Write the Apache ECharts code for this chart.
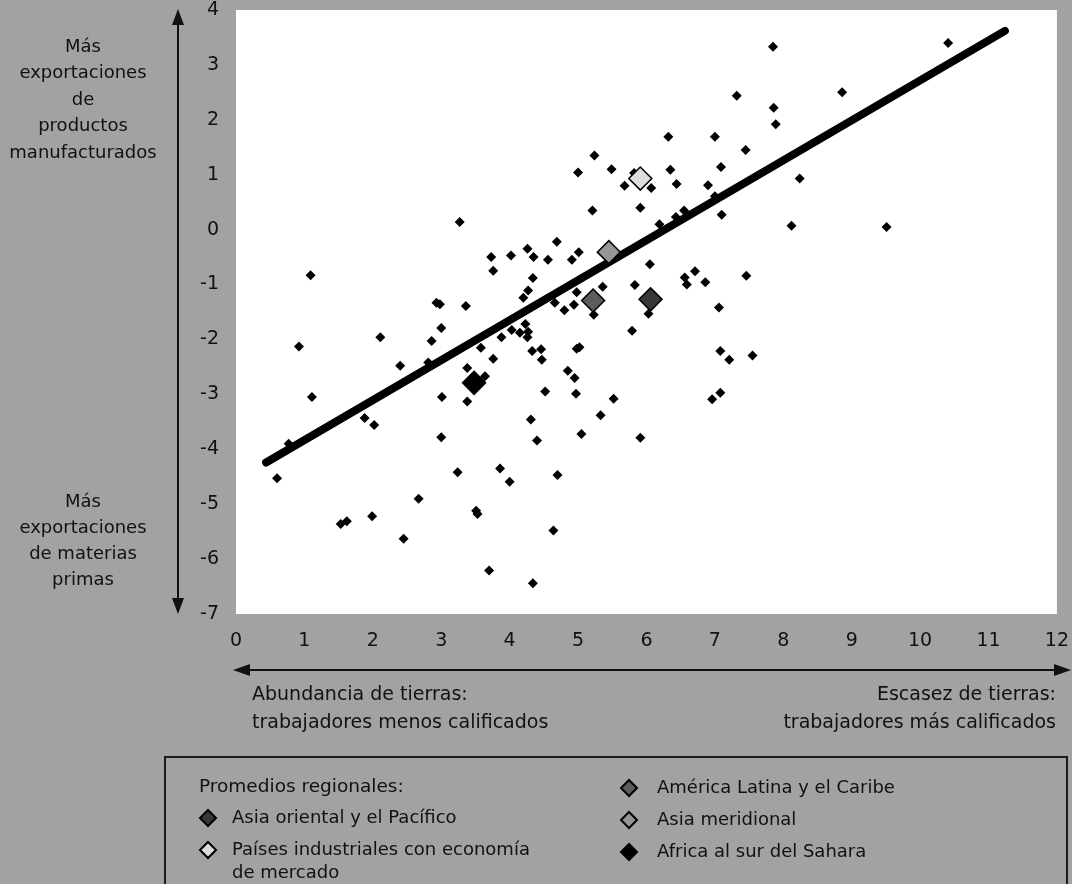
<!DOCTYPE html>
<html>
<head>
<meta charset="utf-8">
<script src="https://cdn.jsdelivr.net/npm/echarts@6/dist/echarts.min.js"></script>
<style>
html, body { margin: 0; padding: 0; background: #a2a2a2; }
#chart { width: 1072px; height: 884px; }
</style>
</head>
<body>
<div id="chart"></div>
<script>
// ---- data ----
const xTicks = [0, 1, 2, 3, 4, 5, 6, 7, 8, 9, 10, 11, 12];
const yTicks = [-7, -6, -5, -4, -3, -2, -1, 0, 1, 2, 3, 4];

const countryX = [
  5.24, 5.00, 5.49, 5.68, 5.82, 5.21, 5.91, 3.27, 4.69, 5.01,
  4.91, 5.83, 1.09, 3.73, 3.76, 4.02, 4.26, 4.35, 4.56, 4.34,
  4.27, 4.20, 4.98, 5.36, 4.66, 4.94, 2.93, 2.98, 3.36, 7.85,
  10.41, 7.32, 7.86, 7.89, 8.86, 6.32, 7.00, 7.45, 6.35, 7.09,
  6.44, 6.90, 6.07, 8.24, 6.19, 6.43, 6.55, 7.00, 7.10, 8.12,
  9.51, 6.05, 6.56, 6.59, 6.71, 6.86, 7.46, 7.06, 3.00, 2.11,
  2.86, 0.92, 2.40, 2.81, 1.11, 1.88, 2.02, 3.01, 3.00, 3.38,
  3.64, 3.38, 3.58, 3.76, 3.88, 4.03, 4.15, 4.23, 4.26, 4.27,
  4.33, 4.46, 4.47, 4.85, 4.95, 4.97, 4.52, 4.98, 5.02, 5.23,
  5.79, 5.52, 5.33, 5.05, 5.91, 4.31, 4.40, 0.60, 3.24, 3.86,
  4.00, 4.70, 2.67, 1.53, 1.62, 1.99, 2.45, 3.51, 3.53, 4.64,
  3.70, 4.34, 6.03, 7.08, 7.21, 7.55, 7.08, 6.96, 4.80, 0.77
];
const countryY = [
  1.35, 1.04, 1.10, 0.80, 1.03, 0.35, 0.40, 0.14, -0.22, -0.41,
  -0.55, -1.01, -0.83, -0.50, -0.75, -0.47, -0.35, -0.50, -0.55, -0.88,
  -1.11, -1.24, -1.14, -1.04, -1.33, -1.37, -1.33, -1.36, -1.39, 3.33,
  3.40, 2.44, 2.22, 1.92, 2.50, 1.69, 1.69, 1.45, 1.09, 1.14,
  0.83, 0.81, 0.76, 0.93, 0.10, 0.23, 0.35, 0.61, 0.27, 0.07,
  0.05, -0.63, -0.87, -1.00, -0.76, -0.96, -0.84, -1.42, -1.79, -1.96,
  -2.03, -2.13, -2.48, -2.42, -3.05, -3.43, -3.56, -3.05, -3.78, -2.52,
  -2.67, -3.13, -2.15, -2.35, -1.96, -1.83, -1.88, -1.72, -1.96, -1.86,
  -2.21, -2.18, -2.37, -2.57, -2.70, -2.99, -2.95, -2.17, -2.14, -1.55,
  -1.84, -3.08, -3.38, -3.72, -3.79, -3.46, -3.84, -4.53, -4.42, -4.35,
  -4.59, -4.47, -4.90, -5.36, -5.31, -5.22, -5.63, -5.12, -5.18, -5.48,
  -6.21, -6.44, -1.53, -2.21, -2.37, -2.29, -2.97, -3.09, -1.47, -3.90
];

const regionNames = [
  'Asia oriental y el Pacífico',
  'Países industriales con economía\nde mercado',
  'América Latina y el Caribe',
  'Asia meridional',
  'Africa al sur del Sahara'
];
const regionX = [6.06, 5.91, 5.22, 5.45, 3.48];
const regionY = [-1.27, 0.93, -1.29, -0.41, -2.79];

const trendX = [0.44, 11.24];
const trendY = [-4.24, 3.62];

// ---- styles (kept apart from data) ----
const regionFills = ['#383838', '#dcdcdc', '#5c5c5c', '#969696', '#000000'];
const FONT = "'DejaVu Sans', Verdana, sans-serif";
const INK = '#111';

const chart = echarts.init(document.getElementById('chart'), null, { renderer: 'canvas' });

const countryData = countryX.map((x, i) => [x, countryY[i]]);
const trendData = trendX.map((x, i) => [x, trendY[i]]);

const regionSeries = regionNames.map((name, i) => ({
  name: name,
  type: 'scatter',
  symbol: 'diamond',
  symbolSize: 23,
  z: 5,
  data: [[regionX[i], regionY[i]]],
  itemStyle: { color: regionFills[i], borderColor: '#000', borderWidth: 1.5, opacity: 1 }
}));

function legendBlock(names, left, top, textPad, formatter) {
  const block = {
    data: names,
    orient: 'vertical', left: left, top: top, itemGap: 9, height: 150,
    padding: 0,
    itemWidth: 16, itemHeight: 16, icon: 'diamond',
    selectedMode: false,
    textStyle: { fontSize: 18, fontFamily: FONT, color: INK, lineHeight: 23, padding: [0, 0, 0, textPad] }
  };
  if (formatter) block.formatter = formatter;
  return block;
}

const option = {
  backgroundColor: '#a2a2a2',
  animation: false,
  grid: {
    left: 236, top: 10, width: 826, height: 604,
    show: true, backgroundColor: '#ffffff', borderWidth: 0,
    containLabel: false
  },
  xAxis: {
    type: 'value', min: xTicks[0], max: xTicks[xTicks.length - 1], interval: 1,
    axisLine: { show: false }, axisTick: { show: false }, splitLine: { show: false },
    axisLabel: { show: true, margin: 18, fontSize: 19, fontFamily: FONT, color: INK,
      showMinLabel: true, showMaxLabel: true }
  },
  yAxis: {
    type: 'value', min: yTicks[0], max: yTicks[yTicks.length - 1], interval: 1,
    axisLine: { show: false }, axisTick: { show: false }, splitLine: { show: false },
    axisLabel: { show: true, margin: 17, fontSize: 19, fontFamily: FONT, color: INK,
      showMinLabel: true, showMaxLabel: true }
  },
  legend: [
    legendBlock([regionNames[0]], 199, 806.5, 11),
    // leading empty line keeps the icon level with the first text line
    legendBlock([regionNames[1]], 199, 815.5, 11, function (n) { return '\n' + n; }),
    legendBlock([regionNames[2], regionNames[3], regionNames[4]], 620, 776.5, 15)
  ],
  series: [
    {
      name: 'Países',
      type: 'scatter',
      symbol: 'diamond',
      symbolSize: 10,
      z: 3,
      data: countryData,
      itemStyle: { color: '#000', opacity: 1 }
    },
    {
      name: 'Tendencia',
      type: 'line',
      data: trendData,
      symbol: 'none',
      z: 4,
      lineStyle: { color: '#000', width: 8, cap: 'round' }
    }
  ].concat(regionSeries),
  graphic: [
    // vertical double arrow
    { type: 'line', shape: { x1: 178, y1: 20, x2: 178, y2: 602 }, style: { stroke: INK, lineWidth: 2 } },
    { type: 'polygon', shape: { points: [[178, 9], [172, 25], [184, 25]] }, style: { fill: INK } },
    { type: 'polygon', shape: { points: [[178, 614], [172, 598], [184, 598]] }, style: { fill: INK } },
    // horizontal double arrow
    { type: 'line', shape: { x1: 245, y1: 670, x2: 1060, y2: 670 }, style: { stroke: INK, lineWidth: 2 } },
    { type: 'polygon', shape: { points: [[233, 670], [250, 664], [250, 676]] }, style: { fill: INK } },
    { type: 'polygon', shape: { points: [[1071, 670], [1054, 664], [1054, 676]] }, style: { fill: INK } },
    // left annotations
    { type: 'text', x: 83, y: 34, style: {
      text: 'Más\nexportaciones\nde\nproductos\nmanufacturados',
      fontSize: 18, fontFamily: FONT, fill: INK, align: 'center', verticalAlign: 'top', lineHeight: 26.5 } },
    { type: 'text', x: 83, y: 489, style: {
      text: 'Más\nexportaciones\nde materias\nprimas',
      fontSize: 18, fontFamily: FONT, fill: INK, align: 'center', verticalAlign: 'top', lineHeight: 26 } },
    // bottom annotations
    { type: 'text', x: 252, y: 681, style: {
      text: 'Abundancia de tierras:\ntrabajadores menos calificados',
      fontSize: 19, fontFamily: FONT, fill: INK, align: 'left', verticalAlign: 'top', lineHeight: 28 } },
    { type: 'text', x: 1056, y: 681, style: {
      text: 'Escasez de tierras:\ntrabajadores más calificados',
      fontSize: 19, fontFamily: FONT, fill: INK, align: 'right', verticalAlign: 'top', lineHeight: 28 } },
    // legend frame and heading
    { type: 'rect', shape: { x: 165, y: 757, width: 902, height: 140 },
      style: { fill: 'none', stroke: '#1a1a1a', lineWidth: 2 } },
    { type: 'text', x: 199, y: 776, style: {
      text: 'Promedios regionales:', fontSize: 18.5, fontFamily: FONT, fill: INK,
      align: 'left', verticalAlign: 'top', lineHeight: 23 } }
  ]
};

chart.setOption(option);
</script>
</body>
</html>
